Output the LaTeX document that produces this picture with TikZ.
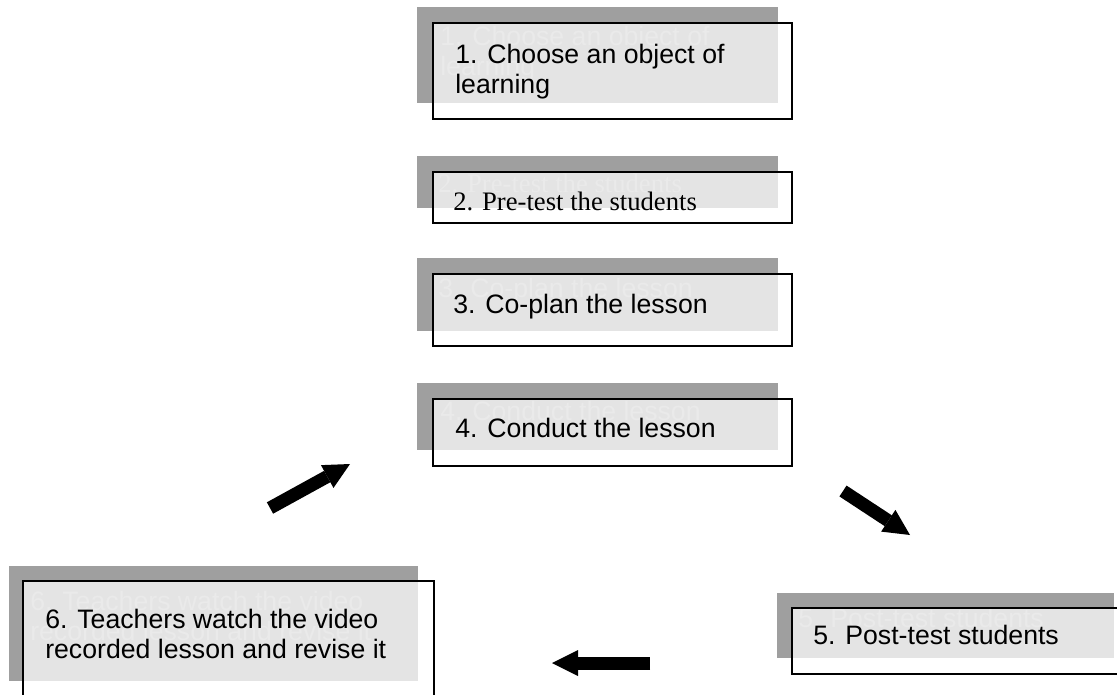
\documentclass[tikz,border=0pt]{standalone}
\usepackage{fontspec}
\setmainfont{Liberation Sans}
\newfontfamily\serifcard{Liberation Serif}
\usetikzlibrary{arrows.meta}
\definecolor{shdfill}{HTML}{9F9F9F}
\definecolor{ghostink}{HTML}{B4B4B4}

\begin{document}
\begin{tikzpicture}[x=0.75pt, y=-0.75pt,
  shd/.style={fill=shdfill, draw=none, anchor=north west, inner sep=0pt, outer sep=0pt},
  card/.style={draw=black, line width=1.2pt, fill=white, fill opacity=0.72,
               anchor=north west, inner sep=0pt, outer sep=0pt},
  txt/.style={anchor=north west, inner sep=0pt, align=left,
              font=\fontsize{20}{22.5}\selectfont},
  ghost/.style={txt, text=ghostink},
  blk/.style={line width=9.75pt, -{Triangle[length=19.5pt, width=19.5pt, line width=0pt]}},
]
\useasboundingbox (0,0) rectangle (1117,694);
\clip (0,0) rectangle (1117,694);
% step 1: shadow, ghost text, card, text
\node[shd, minimum width=270.75pt, minimum height=72pt] (sh1) at (417,7) {};
\node[ghost] (gh1) at (440,24) {\strut 1. Choose an object of\\learning};
\node[card, minimum width=269.25pt, minimum height=72pt] (cd1) at (433,23) {};
\node[txt] (tx1) at (455,42) {\strut 1. Choose an object of\\learning};
% step 2 (serif text)
\node[shd, minimum width=270.75pt, minimum height=39pt] (sh2) at (417,156) {};
\node[ghost, font=\fontsize{20}{22.5}\serifcard] (gh2) at (438,171) {\strut 2. Pre-test the students};
\node[card, minimum width=269.25pt, minimum height=38.25pt] (cd2) at (433,172) {};
\node[txt, font=\fontsize{20}{22.5}\serifcard] (tx2) at (453,189) {\strut 2. Pre-test the students};
% step 3
\node[shd, minimum width=270.75pt, minimum height=54.75pt] (sh3) at (417,258) {};
\node[ghost] (gh3) at (438,276) {\strut 3. Co-plan the lesson};
\node[card, minimum width=269.25pt, minimum height=54pt] (cd3) at (433,274) {};
\node[txt] (tx3) at (453,292) {\strut 3. Co-plan the lesson};
% step 4
\node[shd, minimum width=270.75pt, minimum height=50.25pt] (sh4) at (417,383) {};
\node[ghost] (gh4) at (440,399) {\strut 4. Conduct the lesson};
\node[card, minimum width=269.25pt, minimum height=50.25pt] (cd4) at (433,399) {};
\node[txt] (tx4) at (455,416) {\strut 4. Conduct the lesson};
% step 5 (runs off the right edge)
\node[shd, minimum width=252.75pt, minimum height=48.75pt] (sh5) at (777,593) {};
\node[ghost] (gh5) at (798,606) {\strut 5. Post-test students};
\node[card, minimum width=255pt, minimum height=49.5pt] (cd5) at (792,608) {};
\node[txt] (tx5) at (813,623) {\strut 5. Post-test students};
% step 6 (runs off the bottom edge)
\node[shd, minimum width=306.75pt, minimum height=86.25pt] (sh6) at (9,566) {};
\node[ghost] (gh6) at (30,589) {\strut 6. Teachers watch the video\\recorded lesson and revise it};
\node[card, minimum width=308.25pt, minimum height=87pt] (cd6) at (23,581) {};
\node[txt] (tx6) at (45,607) {\strut 6. Teachers watch the video\\recorded lesson and revise it};
% block arrows between the steps
\coordinate (a1s) at (270,508); \coordinate (a1e) at (350,464);
\coordinate (a2s) at (843,491); \coordinate (a2e) at (910,535);
\coordinate (a3s) at (650,663); \coordinate (a3e) at (552,663);
\draw[blk] (a1s) -- (a1e);
\draw[blk] (a2s) -- (a2e);
\draw[blk] (a3s) -- (a3e);
\end{tikzpicture}
\end{document}
